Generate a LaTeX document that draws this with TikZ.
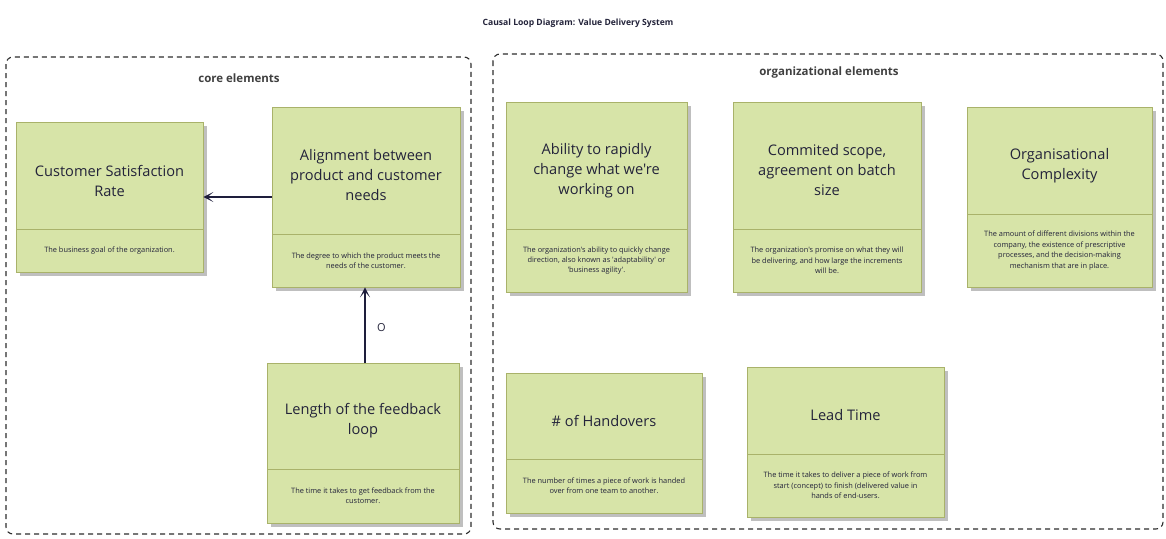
\documentclass[tikz,border=0pt]{standalone}
\usepackage{fontspec}
\setmainfont{Open Sans}[Ligatures=TeXOff]
\usetikzlibrary{arrows.meta}
\definecolor{boxfill}{HTML}{D7E4A8}
\definecolor{boxline}{HTML}{A9B26A}
\definecolor{inktext}{HTML}{23233A}
\definecolor{arrowink}{HTML}{1E1E3C}
\definecolor{framegray}{HTML}{2E2E2E}
\tikzset{
  elembox/.style={draw=boxline, fill=boxfill, line width=0.9pt, inner sep=0pt},
  elemshadow/.style={fill=black!25},
  elemtitle/.style={text=inktext, align=center, font=\fontsize{14.6}{20}\selectfont},
  elemdesc/.style={text=inktext, align=center, font=\fontsize{7.4}{10.4}\selectfont},
  frame/.style={draw=framegray, dash pattern=on 5pt off 4pt, rounded corners=7pt, line width=1.1pt},
  frametitle/.style={text=black!75, font=\bfseries\fontsize{11.5}{13}\selectfont},
  link/.style={draw=arrowink, line width=1.4pt, -{Stealth[length=10pt,width=10pt,inset=6pt]}},
}
% \elem{name}{x1}{y1}{x2}{y2}{ysep}{title}{desc}
\newcommand\elem[8]{%
  \fill[elemshadow] ({#2+4},{#3+4}) rectangle ({#4+4},{#5+4});
  \node[elembox, minimum width={#4-#2}, minimum height={#5-#3}] (#1) at ({(#2+#4)/2},{(#3+#5)/2}) {};
  \draw[boxline, line width=0.9pt] (#2,#6) -- (#4,#6);
  \node[elemtitle] (#1-t) at ({(#2+#4)/2},{(#3+#6)/2+5}) {#7};
  \node[elemdesc] (#1-d) at ({(#2+#4)/2},{(#6+#5)/2}) {#8};
}
\begin{document}
\begin{tikzpicture}[x=1pt,y=-1pt]
\useasboundingbox (0,0) rectangle (1166,538);
\fill[white] (0,0) rectangle (1166,538);

\node[text=inktext, font=\bfseries\fontsize{8.6}{10}\selectfont] (title) at (578,23) {Causal Loop Diagram: Value Delivery System};

% frames
\draw[frame] (6,57) rectangle (471,534);
\node[frametitle] (coretitle) at (239,78) {core elements};
\draw[frame] (493,54) rectangle (1163,529);
\node[frametitle] (orgtitle) at (829,73) {organizational elements};

% core elements
\elem{csr}{16}{122}{203}{272}{229}{Customer Satisfaction\\Rate}{The business goal of the organization.}
\elem{align}{272}{107}{460}{287}{234}{Alignment between\\product and customer\\needs}{The degree to which the product meets the\\needs of the customer.}
\elem{fb}{267}{363}{459}{523}{469}{Length of the feedback\\loop}{The time it takes to get feedback from the\\customer.}

% organizational elements
\elem{abil}{506}{102}{687}{292}{229}{Ability to rapidly\\change what we're\\working on}{The organization's ability to quickly change\\direction, also known as 'adaptability' or\\'business agility'.}
\elem{scope}{733}{102}{921}{292}{229}{Commited scope,\\agreement on batch\\size}{The organization's promise on what they will\\be delivering, and how large the increments\\will be.}
\elem{cplx}{967}{107}{1152}{287}{214}{Organisational\\Complexity}{The amount of different divisions within the\\company, the existence of prescriptive\\processes, and the decision-making\\mechanism that are in place.}
\elem{hand}{506}{373}{702}{513}{459}{\# of Handovers}{The number of times a piece of work is handed\\over from one team to another.}
\elem{lead}{747}{367}{944}{517}{454}{Lead Time}{The time it takes to deliver a piece of work from\\start (concept) to finish (delivered value in\\hands of end-users.}

% connectors
\draw[link] (align.west |- 0,197) -- (csr.east |- 0,197);
\draw[link] (fb.north -| 365,0) -- node[pos=0.47, right=8pt, text=inktext, font=\fontsize{11}{13}\selectfont] (olabel) {O} (align.south -| 365,0);
\end{tikzpicture}
\end{document}
